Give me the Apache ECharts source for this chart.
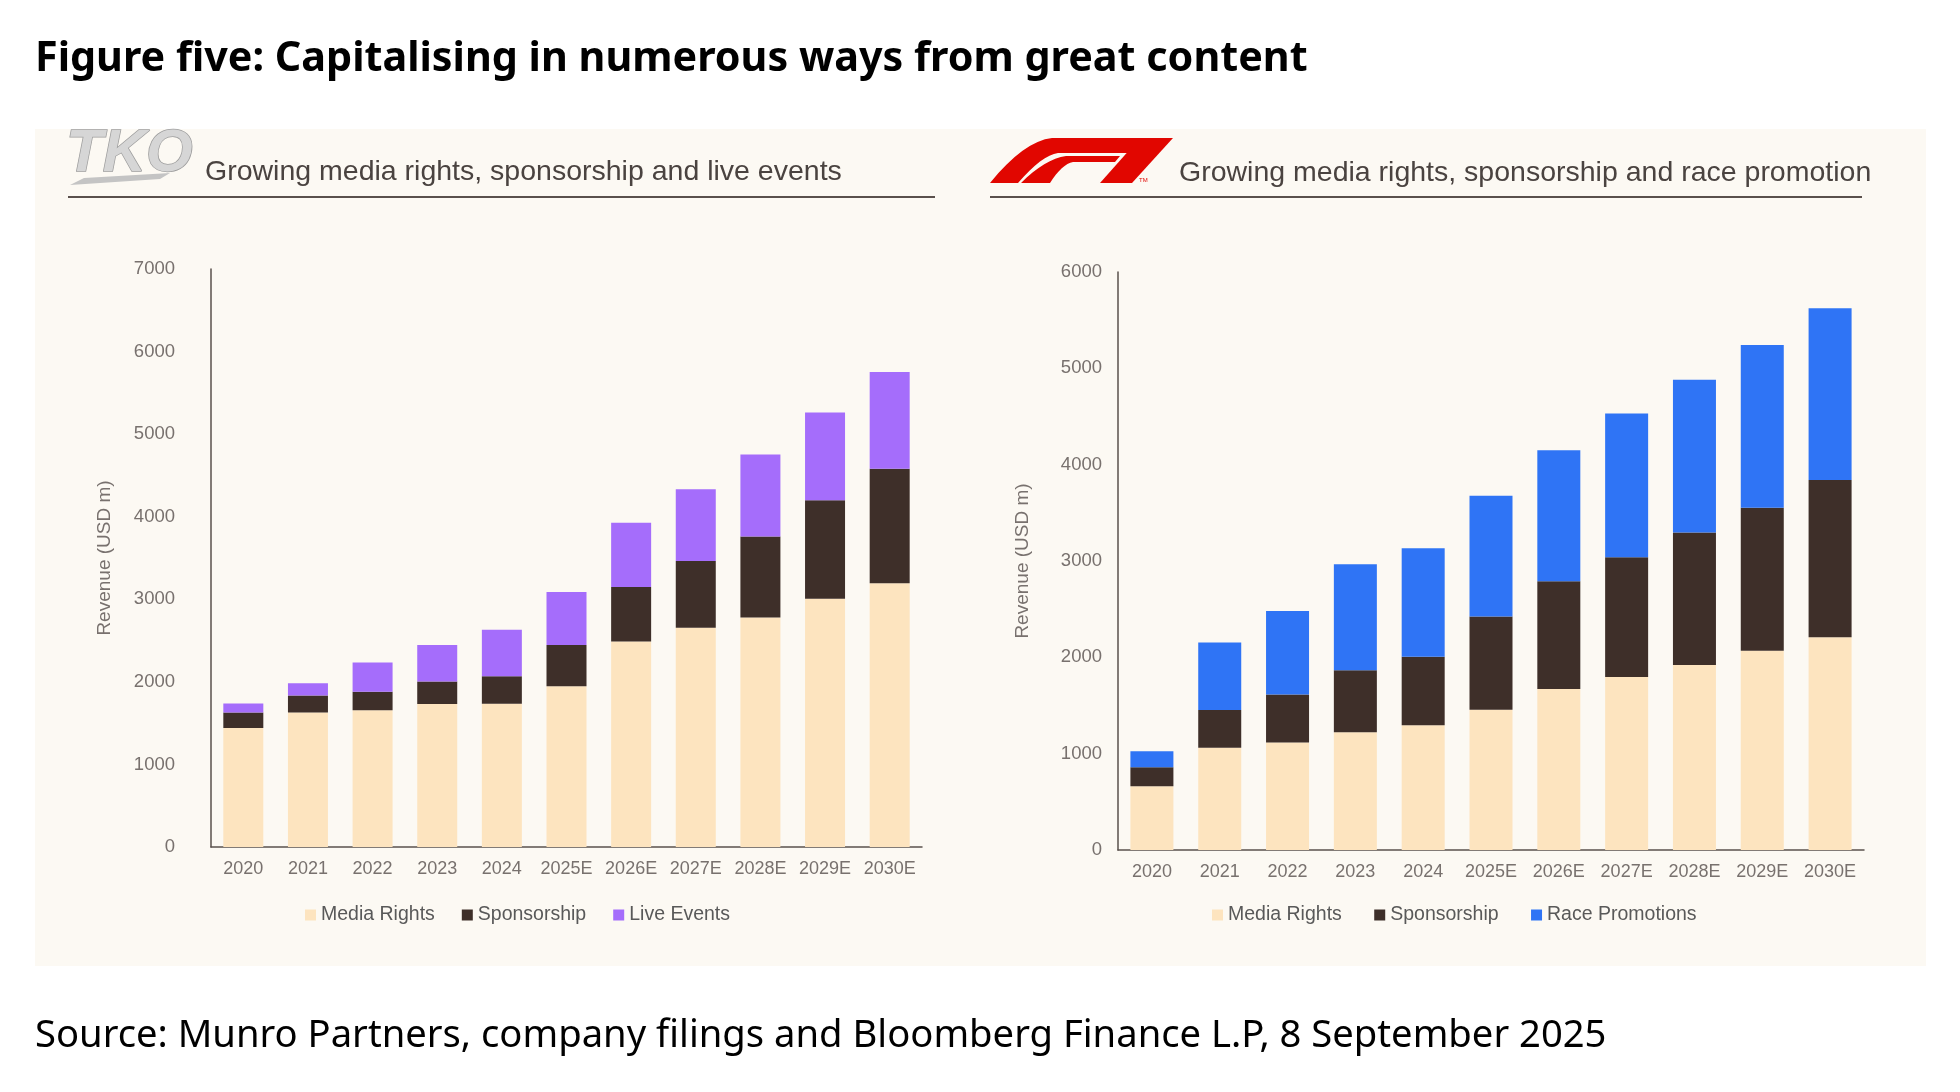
<!DOCTYPE html>
<html>
<head>
<meta charset="utf-8">
<script src="https://cdn.jsdelivr.net/npm/echarts@6/dist/echarts.min.js"></script>
<style>
  html, body { margin: 0; padding: 0; background: #ffffff; }
  #main { width: 1960px; height: 1092px; }
</style>
</head>
<body>
<div id="main"></div>
<script>
var years = ['2020', '2021', '2022', '2023', '2024', '2025E', '2026E', '2027E', '2028E', '2029E', '2030E'];

// TKO revenue (USD m)
var tkoMedia = [1440, 1630, 1655, 1733, 1735, 1946, 2488, 2654, 2779, 3005, 3193];
var tkoSponsorship = [189, 204, 225, 271, 334, 500, 662, 809, 981, 1195, 1388];
var tkoLive = [108, 150, 354, 442, 562, 642, 777, 870, 992, 1061, 1171];

// F1 revenue (USD m)
var f1Media = [663, 1061, 1115, 1222, 1294, 1455, 1670, 1796, 1921, 2068, 2208];
var f1Sponsorship = [197, 391, 498, 645, 713, 968, 1120, 1244, 1374, 1484, 1632];
var f1Race = [165, 702, 867, 1098, 1125, 1254, 1359, 1491, 1587, 1691, 1785];

var C_MEDIA = '#FDE4BF';
var C_SPONS = '#3E2F29';
var C_LIVE = '#A56DFB';
var C_RACE = '#2F74F5';
var AXIS = '#5a514d';
var LBL = '#78716e';
var FONT = "'Liberation Sans', Arial, sans-serif";

var main = document.getElementById('main');
var chart = echarts.init(main);

function xAxisFor(gi) {
    return {
        type: 'category', gridIndex: gi, data: years,
        axisLine: { lineStyle: { color: AXIS, width: 1.5 } },
        axisTick: { show: false },
        axisLabel: { color: LBL, fontSize: 18, fontFamily: FONT, margin: 13, interval: 0 }
    };
}
function yAxisFor(gi, max, margin) {
    return {
        type: 'value', gridIndex: gi, min: 0, max: max, interval: 1000,
        name: 'Revenue (USD m)', nameLocation: 'middle', nameRotate: 90,
        nameGap: gi === 0 ? 97 : 86,
        nameTextStyle: { color: LBL, fontSize: 19, fontFamily: FONT },
        axisLine: { show: true, lineStyle: { color: AXIS, width: 1.5 } },
        axisTick: { show: false },
        splitLine: { show: false },
        axisLabel: { color: LBL, fontSize: 18.5, fontFamily: FONT, margin: margin,
            formatter: function (v) { return String(v); } }
    };
}
function barSeries(name, data, color, xi, bw) {
    return {
        name: name, type: 'bar', stack: 's' + xi, xAxisIndex: xi, yAxisIndex: xi,
        data: data, barWidth: bw, itemStyle: { color: color },
        emphasis: { disabled: true }
    };
}

// sample a quadratic curve into polygon points (logo outline only)
function quad(p0, c, p1) {
    var pts = [];
    for (var i = 0; i <= 8; i++) {
        var t = i / 8, u = 1 - t;
        pts.push([u * u * p0[0] + 2 * u * t * c[0] + t * t * p1[0], u * u * p0[1] + 2 * u * t * c[1] + t * t * p1[1]]);
    }
    return pts;
}
var F1RED = '#E10600';
var f1Outer = quad([990, 183], [1024, 141], [1052, 138])
    .concat([[1143, 138], [1129, 153], [1058, 153]])
    .concat(quad([1058, 153], [1042, 155], [1018, 183]));
var f1Inner = quad([1021, 183], [1045, 159], [1066, 156])
    .concat([[1120, 156], [1115, 162], [1073, 162]])
    .concat(quad([1073, 162], [1062, 164], [1050, 183]));
var f1Logo = [
    { type: 'polygon', shape: { points: f1Outer }, style: { fill: F1RED } },
    { type: 'polygon', shape: { points: f1Inner }, style: { fill: F1RED } },
    { type: 'polygon', shape: { points: [[1140, 138], [1173, 138], [1132, 183], [1100, 183]] }, style: { fill: F1RED } },
    { type: 'text', x: 1139, y: 177, style: { text: 'TM', fontSize: 6, fill: F1RED, fontFamily: FONT } }
];

var tkoLogo = [
    { type: 'text', x: 66, y: 124, style: {
        text: 'TKO', fontSize: 60, fontStyle: 'italic', fontWeight: 900, fontFamily: FONT,
        fill: '#d6d6d6', stroke: '#9d9d9d', lineWidth: 1.5
    } },
    { type: 'polygon', shape: { points: [[70, 185], [84, 178], [170, 173], [160, 179]] }, style: { fill: '#c4c4c4' } }
];

chart.setOption({
    animation: false,
    backgroundColor: '#ffffff',
    graphic: [
        { type: 'rect', shape: { x: 35, y: 129, width: 1891, height: 837 }, style: { fill: '#FCF9F3' }, z: -10 },
        { type: 'text', x: 35, y: 59, style: { text: 'Figure five: Capitalising in numerous ways from great content', fontSize: 41.3, fontWeight: 'bold', fontFamily: "'Noto Sans', sans-serif", fill: '#000000', verticalAlign: 'middle' } },
        { type: 'text', x: 35, y: 1036, style: { text: 'Source: Munro Partners, company filings and Bloomberg Finance L.P, 8 September 2025', fontSize: 38.2, fontFamily: "'Noto Sans', sans-serif", fill: '#000000', verticalAlign: 'middle' } },
        { type: 'text', x: 205, y: 172, style: { text: 'Growing media rights, sponsorship and live events', fontSize: 28.5, fontFamily: FONT, fill: '#4a4340', verticalAlign: 'middle' } },
        { type: 'text', x: 1179, y: 173, style: { text: 'Growing media rights, sponsorship and race promotion', fontSize: 28.5, fontFamily: FONT, fill: '#4a4340', verticalAlign: 'middle' } },
        { type: 'line', shape: { x1: 68, y1: 197, x2: 935, y2: 197 }, style: { stroke: '#5a504c', lineWidth: 2 } },
        { type: 'line', shape: { x1: 990, y1: 197, x2: 1862, y2: 197 }, style: { stroke: '#5a504c', lineWidth: 2 } }
    ].concat(tkoLogo).concat(f1Logo),
    grid: [
        { left: 211, top: 269, width: 711, height: 578 },
        { left: 1118, top: 272, width: 746, height: 578 }
    ],
    legend: [
        { data: ['Media Rights', 'Sponsorship', 'Live Events'], left: 300, top: 900,
          icon: 'rect', itemWidth: 11, itemHeight: 11, itemGap: 27,
          textStyle: { color: '#595959', fontSize: 19.5, fontFamily: FONT } },
        { data: ['Media Rights ', 'Sponsorship ', 'Race Promotions'], left: 1207, top: 900,
          icon: 'rect', itemWidth: 11, itemHeight: 11, itemGap: 27,
          textStyle: { color: '#595959', fontSize: 19.5, fontFamily: FONT } }
    ],
    xAxis: [xAxisFor(0), xAxisFor(1)],
    yAxis: [yAxisFor(0, 7000, 36), yAxisFor(1, 6000, 16)],
    series: [
        barSeries('Media Rights', tkoMedia, C_MEDIA, 0, 40),
        barSeries('Sponsorship', tkoSponsorship, C_SPONS, 0, 40),
        barSeries('Live Events', tkoLive, C_LIVE, 0, 40),
        barSeries('Media Rights ', f1Media, C_MEDIA, 1, 43),
        barSeries('Sponsorship ', f1Sponsorship, C_SPONS, 1, 43),
        barSeries('Race Promotions', f1Race, C_RACE, 1, 43)
    ]
});
</script>
</body>
</html>
